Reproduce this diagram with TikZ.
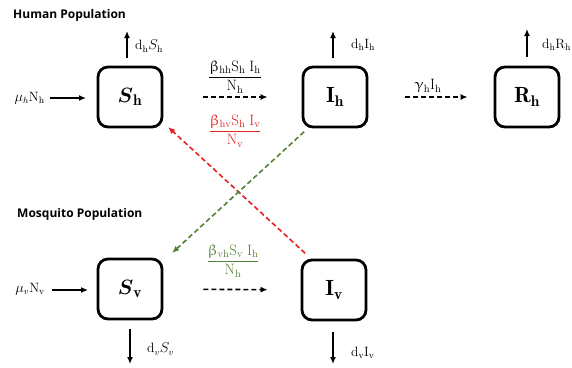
\documentclass[tikz,border=0pt]{standalone}
\usepackage{amsmath}
\usepackage{upgreek}
\usepackage{fontspec}
\newfontfamily\titlefont{Open Sans}
\usetikzlibrary{arrows.meta}
\definecolor{infred}{RGB}{228,32,32}
\definecolor{infgreen}{RGB}{84,130,53}
\tikzset{
  x=1pt, y=-1pt,
  comp/.style={draw, line width=2.8pt, rounded corners=10pt, minimum width=64pt, minimum height=60pt, inner sep=0pt, font=\fontsize{22}{24}\selectfont},
  flow/.style={line width=1.4pt, -{Latex[length=7pt,width=6pt]}},
  dflow/.style={line width=1.6pt, dash pattern=on 5pt off 3pt, -{Latex[length=7pt,width=6pt]}},
  lbl/.style={font=\fontsize{13.5}{15}\selectfont, inner sep=1pt},
  frac/.style={font=\fontsize{15}{17}\selectfont, inner sep=1pt},
  title/.style={font=\titlefont\bfseries\fontsize{12}{14}\selectfont, anchor=west, inner sep=0pt},
}
\begin{document}
\begin{tikzpicture}
\useasboundingbox (0,0) rectangle (572,367);
\clip (0,0) rectangle (572,367);
% titles
\node[title] (th) at (13,15) {Human Population};
\node[title] (tm) at (17,214) {Mosquito Population};
% compartments
\node[comp] (Sh) at (130,97) {$\boldsymbol{S}_{\mathbf{h}}$};
\node[comp] (Ih) at (335,97) {$\mathbf{I}_{\mathbf{h}}$};
\node[comp] (Rh) at (527,97) {$\mathbf{R}_{\mathbf{h}}$};
\node[comp] (Sv) at (130,289) {$\boldsymbol{S}_{\mathbf{v}}$};
\node[comp] (Iv) at (334,290) {$\mathbf{I}_{\mathbf{v}}$};
% free ends
\coordinate (ShUp) at (127,31);
\coordinate (ShUpS) at (127,58);
\coordinate (IhUp) at (333,31);
\coordinate (IhUpS) at (333,58);
\coordinate (RhUp) at (527,29);
\coordinate (RhUpS) at (527,57);
\coordinate (SvDn) at (130,364);
\coordinate (IvDn) at (333,364);
\coordinate (IvDnS) at (333,332);
\coordinate (ShIn) at (50,98);
\coordinate (ShInE) at (86,98);
\coordinate (SvIn) at (52,290);
\coordinate (SvInE) at (88,290);
% births
\node[lbl, anchor=east] (muh) at (46,98) {$\mu_h\mathrm{N_h}$};
\node[lbl, anchor=east] (muv) at (46,289) {$\mu_v\mathrm{N_v}$};
\draw[flow] (ShIn) -- (ShInE);
\draw[flow] (SvIn) -- (SvInE);
% deaths
\draw[flow] (ShUpS) -- (ShUp);
\draw[flow] (IhUpS) -- (IhUp);
\draw[flow] (RhUpS) -- (RhUp);
\draw[flow, shorten <=9pt] (Sv.south) -- (SvDn);
\draw[flow] (IvDnS) -- (IvDn);
\node[lbl, anchor=west] (dSh) at (134,46) {$\mathrm{d_h}S_\mathrm{h}$};
\node[lbl, anchor=west] (dIh) at (350,45) {$\mathrm{d_hI_h}$};
\node[lbl, anchor=west] (dRh) at (541,45) {$\mathrm{d_hR_h}$};
\node[lbl, anchor=west] (dSv) at (146,349) {$\mathrm{d}_vS_v$};
\node[lbl, anchor=west] (dIv) at (350,353) {$\mathrm{d_vI_v}$};
% transitions
\draw[dflow, shorten <=40pt, shorten >=34pt] (Sh) -- (Ih);
\draw[dflow, shorten <=37pt, shorten >=26pt] (Ih) -- (Rh);
\draw[dflow, shorten <=40pt, shorten >=33pt] (Sv) -- (Iv);
\node[frac] (fhh) at (235,77) {$\dfrac{\upbeta_{\mathrm{hh}}\mathrm{S_h\;I_h}}{\mathrm{N_h}}$};
\node[frac, text=infred] (fhv) at (235,131) {$\dfrac{\upbeta_{\mathrm{hv}}\mathrm{S_h\;I_v}}{\mathrm{N_v}}$};
\node[frac] (gam) at (428,86) {$\upgamma_\mathrm{h}\mathrm{I_h}$};
\node[frac, text=infgreen] (fvh) at (233,261) {$\dfrac{\upbeta_{\mathrm{vh}}\mathrm{S_v\;I_h}}{\mathrm{N_h}}$};
% cross infections
\draw[dflow, infred, shorten <=2pt, shorten >=1pt] ([shift={(6,-4)}]Iv.north west) -- ([shift={(4,-2)}]Sh.south east);
\draw[dflow, infgreen, shorten <=2pt, shorten >=1pt] ([shift={(4,2)}]Ih.south west) -- ([shift={(8,-4)}]Sv.north east);
\end{tikzpicture}
\end{document}
